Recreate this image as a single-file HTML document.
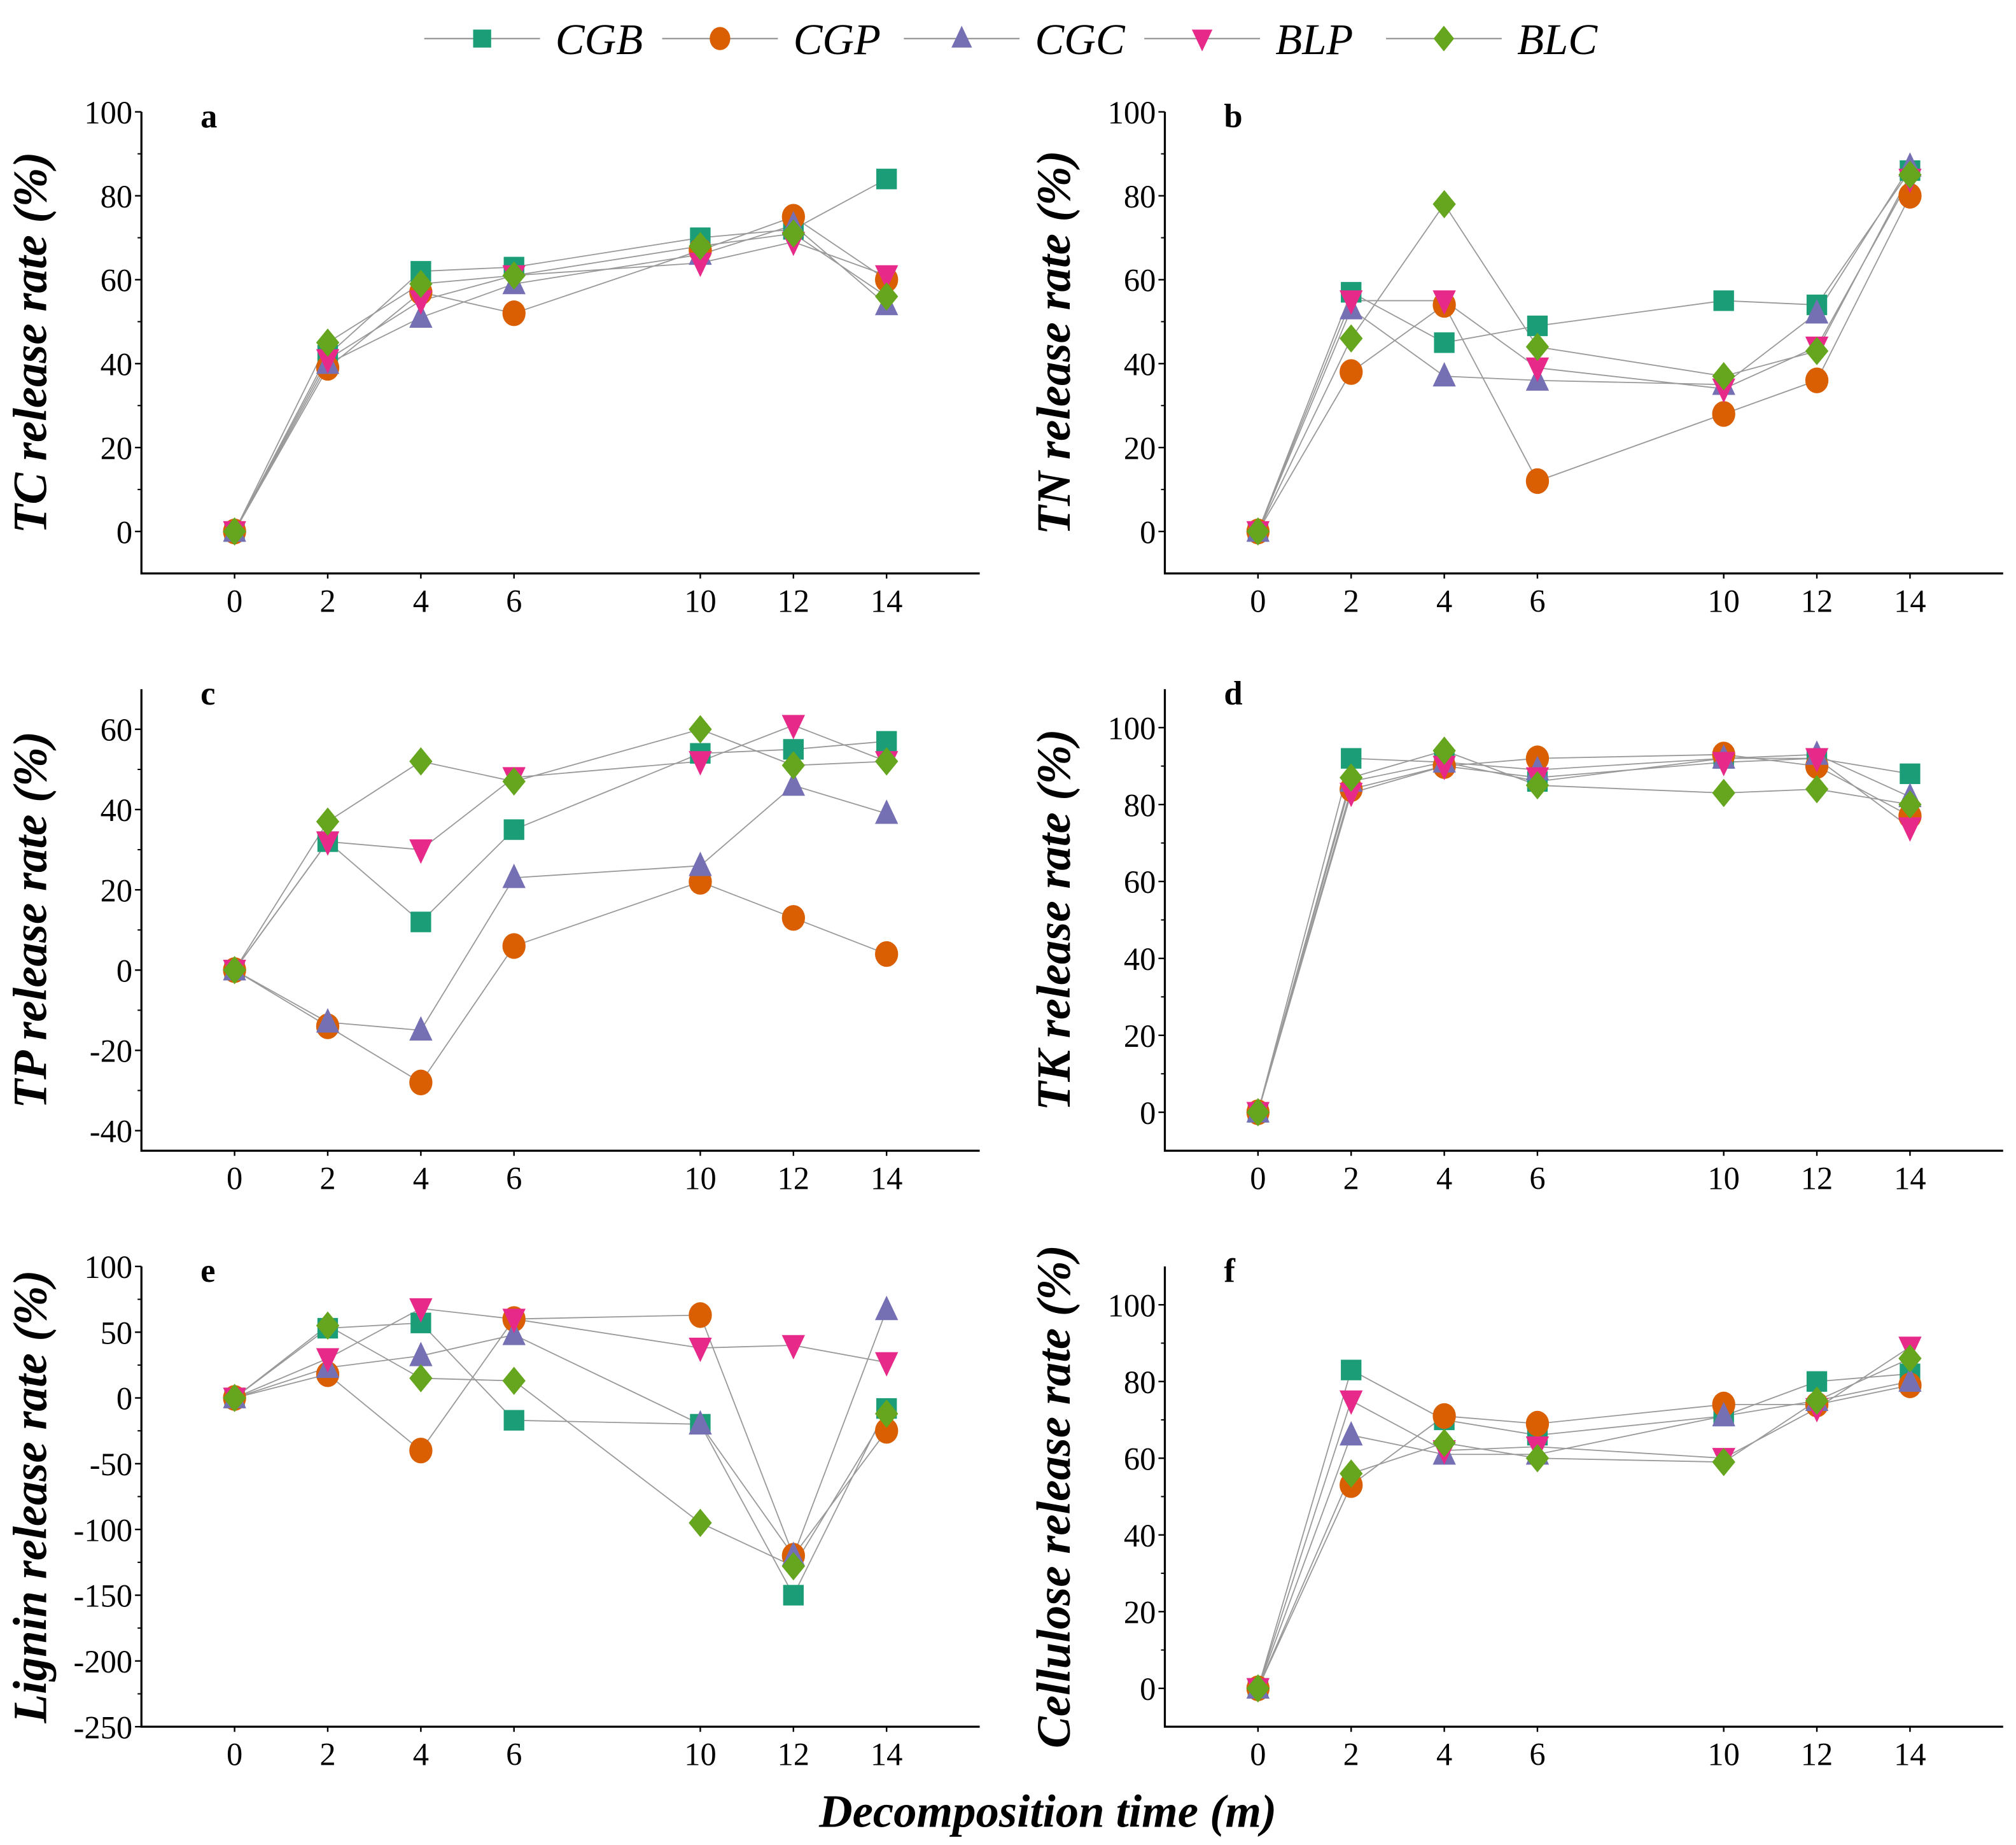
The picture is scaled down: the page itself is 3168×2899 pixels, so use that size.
<!DOCTYPE html>
<html><head><meta charset="utf-8"><style>
html,body{margin:0;padding:0;background:#fff}
svg{display:block}
text{font-family:"Liberation Serif",serif}
</style></head><body>
<svg id="c" width="3168" height="2899" viewBox="0 0 1568 1435" preserveAspectRatio="none" xmlns="http://www.w3.org/2000/svg"></svg>
<script>
const times=[0,2,4,6,10,12,14];
const seriesNames=["CGB","CGP","CGC","BLP","BLC"];
const colors=["#1b9e77","#d95f02","#7570b3","#e7298a","#66a61e"];
const tcCGB=[0,42,62,63,70,72,84], tcCGP=[0,39,57,52,67,75,60], tcCGC=[0,40,51,59,66,73,54], tcBLP=[0,41,55,61,64,69,61], tcBLC=[0,45,59,61,68,71,56];
const tnCGB=[0,57,45,49,55,54,86], tnCGP=[0,38,54,12,28,36,80], tnCGC=[0,53,37,36,35,52,87], tnBLP=[0,55,55,39,34,44,84], tnBLC=[0,46,78,44,37,43,85];
const tpCGB=[0,32,12,35,54,55,57], tpCGP=[0,-14,-28,6,22,13,4], tpCGC=[0,-13,-15,23,26,46,39], tpBLP=[0,32,30,48,52,61,52], tpBLC=[0,37,52,47,60,51,52];
const tkCGB=[0,92,91,86,92,92,88], tkCGP=[0,84,90,92,93,90,77], tkCGC=[0,86,91,89,92,93,82], tkBLP=[0,83,90,87,91,92,74], tkBLC=[0,87,94,85,83,84,80];
const lgCGB=[0,53,57,-17,-20,-150,-8], lgCGP=[0,18,-40,60,63,-120,-25], lgCGC=[0,23,32,48,-20,-120,67], lgBLP=[0,30,68,60,38,40,27], lgBLC=[0,55,15,13,-95,-128,-12];
const ceCGB=[0,83,70,66,71,80,82], ceCGP=[0,53,71,69,74,74,79], ceCGC=[0,66,61,61,71,75,80], ceBLP=[0,75,62,63,60,73,89], ceBLC=[0,56,64,60,59,75,86];
const yTicksA=[0,20,40,60,80,100], yTicksC=[-40,-20,0,20,40,60], yTicksE=[-250,-200,-150,-100,-50,0,50,100];

const NS="http://www.w3.org/2000/svg";
const svg=document.getElementById('c');
function mk(tag,at,parent){const e=document.createElementNS(NS,tag);for(const k in at)e.setAttribute(k,at[k]);(parent||svg).appendChild(e);return e;}
function marker(g,i,x,y,s){
  const c=colors[i];let e;
  if(i===0)e=mk('rect',{x:x-s,y:y-s,width:2*s,height:2*s,fill:c},g);
  else if(i===1)e=mk('ellipse',{cx:x,cy:y,rx:s+1,ry:s+2,fill:c},g);
  else if(i===2)e=mk('polygon',{points:`${x},${y-s-3} ${x-s-1},${y+s} ${x+s+1},${y+s}`,fill:c},g);
  else if(i===3)e=mk('polygon',{points:`${x},${y+s+3} ${x-s-1},${y-s} ${x+s+1},${y-s}`,fill:c},g);
  else e=mk('polygon',{points:`${x},${y-s-3} ${x+s+1},${y} ${x},${y+s+3} ${x-s-1},${y}`,fill:c},g);
  
  
  return e;
}
const lg=mk('g',{});


const lx=[330,515,703,890,1078];
seriesNames.forEach((n,i)=>{
  const g=mk('g',{},lg);
  
  
  mk('line',{x1:lx[i],y1:30,x2:lx[i]+90,y2:30,stroke:'#888','stroke-width':1},g);
  marker(g,i,lx[i]+45,30,7);
  const t=mk('text',{x:lx[i]+102,y:42,'font-size':34,'font-style':'italic'},g);t.textContent=n;
});
function panel(cfg){
  const {x0,x1,y0,y1,ymin,ymax,ticks,letter,title,data}=cfg;
  const g=mk('g',{});
  
  
  const X=v=>x0+(v+2)/18*(x1-x0);
  const Y=v=>y1-(v-ymin)/(ymax-ymin)*(y1-y0);
  const ax=mk('path',{d:`M${x0},${y0} V${y1} H${x1}`,fill:'none',stroke:'#000','stroke-width':1.6},g);
  
  
  ticks.forEach(t=>{
    mk('line',{x1:x0-5,y1:Y(t),x2:x0,y2:Y(t),stroke:'#000','stroke-width':1.2},g);
    const tx=mk('text',{x:x0-7,y:Y(t)+9,'font-size':25,'text-anchor':'end'},g);tx.textContent=t;
    
    
  });
  for(let i=0;i<ticks.length-1;i++){const m=(ticks[i]+ticks[i+1])/2;mk('line',{x1:x0-3,y1:Y(m),x2:x0,y2:Y(m),stroke:'#000','stroke-width':1},g);}
  times.forEach(t=>{
    mk('line',{x1:X(t),y1:y1,x2:X(t),y2:y1+4,stroke:'#000','stroke-width':1.2},g);
    const tx=mk('text',{x:X(t),y:y1+30,'font-size':25,'text-anchor':'middle'},g);tx.textContent=t;
    
    
  });
  const lt=mk('text',{x:x0+46,y:y0+12,'font-size':26,'font-weight':'bold'},g);lt.textContent=letter;
  
  
  const cy=(y0+y1)/2, cx=x0-74;
  const yt=mk('text',{x:cx,y:cy,'font-size':37,'font-weight':'bold','font-style':'italic','text-anchor':'middle',transform:`rotate(-90 ${cx} ${cy})`},g);
  yt.textContent=title;
  
  
  data.forEach((arr,i)=>{
    const pts=arr.map((v,j)=>X(times[j])+','+Y(v)).join(' ');
    const pl=mk('polyline',{points:pts,fill:'none',stroke:'#999','stroke-width':0.9},g);
    
    
  });
  data.forEach((arr,i)=>{arr.forEach((v,j)=>marker(g,i,X(times[j]),Y(v),8));});
}
panel({x0:110,x1:762,y0:87,y1:446,ymin:-10,ymax:100,ticks:yTicksA,letter:'a',title:'TC release rate (%)',data:[tcCGB,tcCGP,tcCGC,tcBLP,tcBLC]});
panel({x0:906,x1:1558,y0:87,y1:446,ymin:-10,ymax:100,ticks:yTicksA,letter:'b',title:'TN release rate (%)',data:[tnCGB,tnCGP,tnCGC,tnBLP,tnBLC]});
panel({x0:110,x1:762,y0:536,y1:895,ymin:-45,ymax:70,ticks:yTicksC,letter:'c',title:'TP release rate (%)',data:[tpCGB,tpCGP,tpCGC,tpBLP,tpBLC]});
panel({x0:906,x1:1558,y0:536,y1:895,ymin:-10,ymax:110,ticks:yTicksA,letter:'d',title:'TK release rate (%)',data:[tkCGB,tkCGP,tkCGC,tkBLP,tkBLC]});
panel({x0:110,x1:762,y0:985,y1:1343,ymin:-250,ymax:100,ticks:yTicksE,letter:'e',title:'Lignin release rate (%)',data:[lgCGB,lgCGP,lgCGC,lgBLP,lgBLC]});
panel({x0:906,x1:1558,y0:985,y1:1343,ymin:-10,ymax:110,ticks:yTicksA,letter:'f',title:'Cellulose release rate (%)',data:[ceCGB,ceCGP,ceCGC,ceBLP,ceBLC]});
const xt=mk('text',{x:815,y:1421,'font-size':36,'font-weight':'bold','font-style':'italic','text-anchor':'middle'});
xt.textContent='Decomposition time (m)';


</script>
</body></html>
